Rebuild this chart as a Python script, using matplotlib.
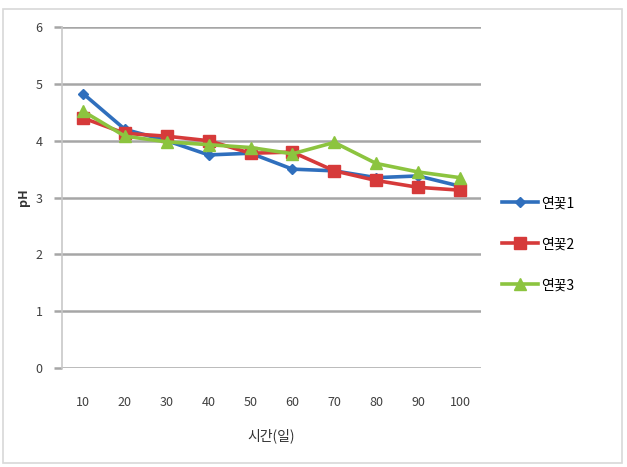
import numpy as np
import matplotlib
matplotlib.use('Agg')
import matplotlib.pyplot as plt
from matplotlib.patches import Rectangle

plt.rcParams['font.family'] = ['Noto Sans CJK KR', 'DejaVu Sans']

# data
days = ['10', '20', '30', '40', '50', '60', '70', '80', '90', '100']
ph_1 = [4.83, 4.2, 4.0, 3.75, 3.78, 3.5, 3.47, 3.35, 3.38, 3.2]
ph_2 = [4.4, 4.13, 4.08, 4.0, 3.78, 3.8, 3.47, 3.3, 3.18, 3.13]
ph_3 = [4.52, 4.08, 3.98, 3.93, 3.88, 3.77, 3.97, 3.6, 3.45, 3.35]
names = ['연꽃1', '연꽃2', '연꽃3']
y_ticks = [0, 1, 2, 3, 4, 5, 6]

fig = plt.figure(figsize=(6.27, 4.67), dpi=100)
ax = fig.add_axes([0.099, 0.212, 0.668, 0.730])

# outer light border of the chart area
fig.patches.append(Rectangle((0.004, 0.008), 0.988, 0.972, transform=fig.transFigure,
                             fill=False, edgecolor='#d8d8d8', linewidth=1.2))

x = np.arange(len(days))
ax.plot(x, ph_1, color='#2f6fbd', marker='D', markersize=5, linewidth=2.6, label=names[0])
ax.plot(x, ph_2, color='#d63a3a', marker='s', markersize=8, linewidth=2.6, label=names[1])
ax.plot(x, ph_3, color='#8cc43f', marker='^', markersize=8, linewidth=2.6, label=names[2])

ax.set_xlim(-0.5, len(days) - 0.5)
ax.set_ylim(0, 6)
ax.set_yticks(y_ticks)
ax.set_xticks(x)
ax.set_xticklabels(days)
ax.yaxis.grid(True, color='#a6a6a6', linewidth=1.8)
ax.set_axisbelow(True)

for s in ['top', 'right', 'bottom']:
    ax.spines[s].set_visible(False)
ax.spines['left'].set_color('#c8c8c8')
ax.spines['left'].set_linewidth(1.2)

ax.tick_params(axis='y', length=6, color='#a6a6a6', width=1.8, pad=8, labelsize=9, labelcolor='#404040')
ax.tick_params(axis='x', length=0, pad=20, labelsize=9, labelcolor='#404040')

ax.set_xlabel('시간(일)', fontsize=10, color='#333333', labelpad=14)
ax.set_ylabel('pH', fontsize=9, color='#333333', fontweight='bold', labelpad=4)

ax.legend(loc='center left', bbox_to_anchor=(1.02, 0.363), frameon=False,
          fontsize=10, labelspacing=1.95, handlelength=2.6, handletextpad=0.2)

fig.savefig('out.png', dpi=100)
